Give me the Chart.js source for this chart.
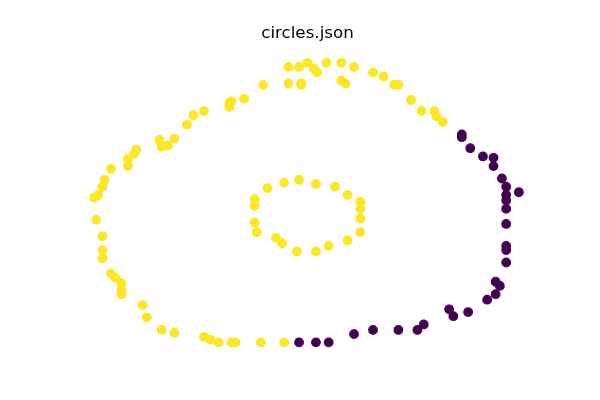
<!DOCTYPE html>
<html>
<head>
<meta charset="utf-8">
<script src="https://cdn.jsdelivr.net/npm/chart.js@4"></script>
<style>
  html, body { margin: 0; padding: 0; background: #ffffff; }
  #wrap { width: 600px; height: 400px; }
</style>
</head>
<body>
<div id="wrap"><canvas id="c" width="600" height="400"></canvas></div>
<script>
// Class 1 (yellow): outer ring, left/top part
const outerYellowX = [-0.09,-0.04,0.00,0.03,0.045,0.09,0.16,0.22,0.31,0.36,0.41,0.43,0.49,0.54,0.60,0.61,0.64,
  -0.09,-0.03,-0.03,0.16,0.18,-0.21,-0.30,-0.36,-0.37,-0.37,-0.49,-0.54,-0.57,-0.63,-0.70,-0.69,-0.66,
  -0.81,-0.82,-0.85,-0.85,-0.93,-0.96,-0.97,-0.99,-1.01,-1.00,-0.97,-0.97,-0.97,-0.93,-0.91,-0.88,-0.88,-0.88,
  -0.78,-0.76,-0.69,-0.63,-0.49,-0.46,-0.42,-0.36,-0.34,-0.22,-0.11];
const outerYellowY = [0.97,0.97,1.00,0.96,0.93,1.00,1.00,0.97,0.93,0.90,0.84,0.84,0.73,0.65,0.65,0.61,0.57,
  0.85,0.85,0.84,0.87,0.85,0.84,0.74,0.72,0.71,0.68,0.65,0.62,0.55,0.45,0.44,0.39,0.40,
  0.37,0.34,0.30,0.25,0.23,0.15,0.10,0.04,0.02,-0.14,-0.26,-0.36,-0.42,-0.53,-0.56,-0.60,-0.65,-0.68,
  -0.76,-0.85,-0.94,-0.96,-0.99,-1.01,-1.03,-1.03,-1.03,-1.03,-1.03];

// Class 1 (yellow): inner ring
const innerYellowX = [-0.19,-0.11,-0.04,0.04,0.13,0.19,0.25,0.25,0.25,0.25,0.19,0.10,0.04,-0.05,-0.12,-0.15,-0.24,-0.25,-0.25,-0.25];
const innerYellowY = [0.09,0.13,0.15,0.12,0.10,0.04,-0.01,-0.06,-0.13,-0.23,-0.29,-0.33,-0.37,-0.37,-0.31,-0.27,-0.23,-0.16,-0.04,0.01];

// Class 0 (purple): outer ring, right/bottom part
const purpleX = [-0.04,0.04,0.10,0.22,0.31,0.43,0.52,0.55,0.67,0.69,0.76,0.85,0.89,0.89,0.91,
  0.94,0.94,0.94,0.94,0.94,0.94,0.94,0.94,0.92,1.00,0.88,0.88,0.83,0.77,0.73,0.73];
const purpleY = [-1.03,-1.03,-1.03,-0.97,-0.94,-0.94,-0.94,-0.90,-0.79,-0.84,-0.81,-0.72,-0.68,-0.59,-0.62,
  -0.45,-0.36,-0.33,-0.17,-0.06,0.00,0.04,0.10,0.16,0.06,0.25,0.31,0.32,0.38,0.48,0.46];

const titleText = "circles.json";
const yellow = "#fde725";
const purple = "#440154";

function pts(xs, ys) { return xs.map((x, i) => ({ x: x, y: ys[i] })); }

const yellowPts = pts(outerYellowX, outerYellowY).concat(pts(innerYellowX, innerYellowY));
const purplePts = pts(purpleX, purpleY);

new Chart(document.getElementById("c"), {
  type: "scatter",
  data: {
    datasets: [
      { label: "0", data: purplePts, backgroundColor: purple, borderColor: purple, pointRadius: 4.3, borderWidth: 1.2, pointHoverRadius: 4.3 },
      { label: "1", data: yellowPts, backgroundColor: yellow, borderColor: yellow, pointRadius: 4.3, borderWidth: 1.2, pointHoverRadius: 4.3 }
    ]
  },
  options: {
    responsive: false,
    animation: false,
    events: [],
    layout: { padding: { left: 75, right: 60, top: 0, bottom: 48 } },
    scales: {
      x: { type: "linear", min: -1.1, max: 1.1, display: false },
      y: { type: "linear", min: -1.1, max: 1.1, display: false }
    },
    plugins: {
      legend: { display: false },
      tooltip: { enabled: false },
      title: {
        display: true,
        text: titleText,
        color: "#000000",
        font: { family: "DejaVu Sans", size: 16.7, weight: "normal" },
        padding: { top: 24, bottom: 5 }
      }
    }
  }
});
</script>
</body>
</html>
